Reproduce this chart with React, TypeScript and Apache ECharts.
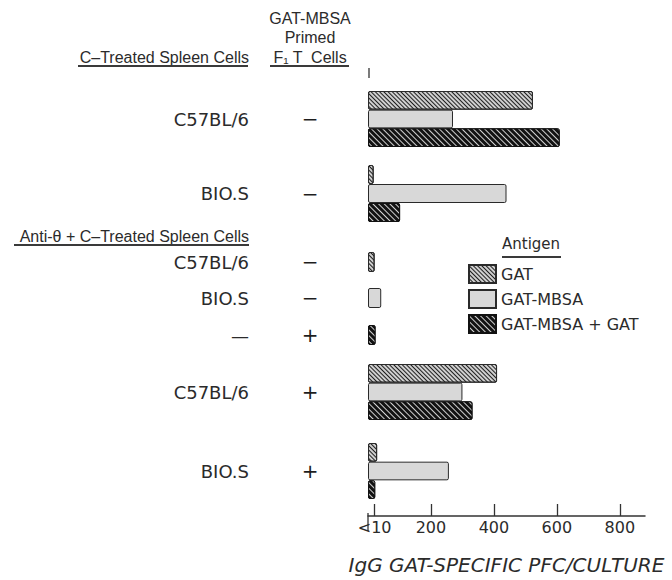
import React, { useEffect, useRef } from 'react';
import * as echarts from 'echarts';

// ---- data ----
const groupLabels = ['C57BL/6', 'BIO.S', 'C57BL/6', 'BIO.S', '—', 'C57BL/6', 'BIO.S'];
const primedMarks = ['−', '−', '−', '−', '+', '+', '+'];
const seriesNames = ['GAT', 'GAT-MBSA', 'GAT-MBSA + GAT'];
const gatValues = [524, 18, 21, null, null, 410, 29];
const mbsaValues = [270, 440, null, 42, null, 300, 257];
const comboValues = [609, 102, null, null, 24, 332, 23];
const xTickValues = [21, 200, 400, 600, 800];
const xTickLabels = ['<10', '200', '400', '600', '800'];

// ---- layout ----
const GRID_LEFT = 368;
const GRID_WIDTH = 277;
const X_MAX = 880;
const groupTops = [91, 165, 252, 288, 325, 364, 443];
const groupHeights = [56, 57, 20, 20, 20, 56, 56];
const AXIS_Y = 531;

const TEXT = '#2b2b2b';
const FONT = 'DejaVu Sans';
const HEAD_FONT = '16px "Liberation Sans", Arial, sans-serif';

const styles = [
  {
    color: '#cfcfcf',
    borderColor: '#2a2a2a',
    borderWidth: 1,
    borderRadius: 1.5,
    decal: { symbol: 'rect', symbolSize: 1, dashArrayX: [1, 0], dashArrayY: [1, 2], rotation: Math.PI / 4, color: '#1e1e1e' },
  },
  { color: '#d8d8d8', borderColor: '#2a2a2a', borderWidth: 1, borderRadius: 1.5 },
  {
    color: '#121212',
    borderColor: '#111',
    borderWidth: 1,
    borderRadius: 1.5,
    decal: { symbol: 'rect', symbolSize: 1, dashArrayX: [1, 0], dashArrayY: [1, 3], rotation: Math.PI / 4, color: '#d0d0d0' },
  },
];

export default function App() {
  const ref = useRef<HTMLDivElement>(null);
  useEffect(() => {
    if (!ref.current) return;
    const chart = echarts.init(ref.current, null, { renderer: 'svg' });
    const valueSets = [gatValues, mbsaValues, comboValues];

    const grid: any[] = [];
    const xAxis: any[] = [];
    const yAxis: any[] = [];
    const series: any[] = [];

    groupLabels.forEach((label, gi) => {
      grid.push({ left: GRID_LEFT, width: GRID_WIDTH, top: groupTops[gi], height: groupHeights[gi] });
      xAxis.push({ gridIndex: gi, type: 'value', min: 0, max: X_MAX, show: false });
      yAxis.push({
        gridIndex: gi,
        type: 'category',
        inverse: true,
        data: [label],
        axisLine: { show: false },
        axisTick: { show: false },
        axisLabel: {
          margin: 18,
          formatter: (v: string) => `{n|${v}}{s|${primedMarks[gi]}}`,
          rich: {
            n: { fontSize: 18, fontFamily: FONT, color: TEXT, padding: [0, 21, 0, 0] },
            s: { width: 80, align: 'center', fontSize: 20, fontFamily: FONT, color: '#1e1e1e' },
          },
        },
      });
      valueSets.forEach((vals, si) => {
        const v = vals[gi];
        if (v === null || v === undefined) return;
        series.push({
          type: 'bar',
          name: seriesNames[si],
          xAxisIndex: gi,
          yAxisIndex: gi,
          data: [v],
          barGap: '0%',
          barCategoryGap: '0%',
          itemStyle: styles[si],
        });
      });
    });

    // axis-only grid
    const ai = groupLabels.length;
    grid.push({ left: GRID_LEFT, width: GRID_WIDTH, top: 60, height: AXIS_Y - 60 });
    xAxis.push({
      gridIndex: ai,
      type: 'value',
      min: 0,
      max: X_MAX,
      position: 'bottom',
      axisLine: { show: true, lineStyle: { color: '#333', width: 1.5 } },
      axisTick: { show: true, inside: true, length: 12, lineStyle: { color: '#333', width: 1.3 }, customValues: xTickValues },
      axisLabel: {
        customValues: xTickValues,
        formatter: (v: number) => xTickLabels[xTickValues.indexOf(v)] ?? '',
        fontSize: 16,
        fontFamily: FONT,
        color: TEXT,
        margin: 3,
      },
      splitLine: { show: false },
      name: 'IgG GAT-SPECIFIC PFC/CULTURE',
      nameLocation: 'middle',
      nameGap: 39,
      nameTextStyle: { fontStyle: 'italic', fontSize: 20, fontFamily: FONT, color: TEXT },
    });
    yAxis.push({ gridIndex: ai, type: 'value', show: false });

    const lineStyle = { stroke: '#3a3a3a', lineWidth: 2 };
    chart.setOption({
      animation: false,
      grid,
      xAxis,
      yAxis,
      series,
      legend: {
        orient: 'vertical',
        left: 468,
        top: 264,
        padding: 0,
        itemWidth: 27,
        itemHeight: 18,
        itemGap: 5,
        icon: 'rect',
        selectedMode: false,
        data: seriesNames,
        textStyle: { fontSize: 16, fontFamily: FONT, color: TEXT },
      },
      graphic: [
        { type: 'text', x: 310, y: 18, style: { text: 'GAT-MBSA', font: HEAD_FONT, fill: TEXT, textAlign: 'center', textVerticalAlign: 'middle' } },
        { type: 'text', x: 310, y: 37, style: { text: 'Primed', font: HEAD_FONT, fill: TEXT, textAlign: 'center', textVerticalAlign: 'middle' } },
        { type: 'text', x: 310, y: 57, style: { text: 'F₁ T  Cells', font: HEAD_FONT, fill: TEXT, textAlign: 'center', textVerticalAlign: 'middle' } },
        { type: 'text', x: 249, y: 57, style: { text: 'C–Treated Spleen Cells', font: HEAD_FONT, fill: TEXT, textAlign: 'right', textVerticalAlign: 'middle' } },
        { type: 'line', shape: { x1: 78, y1: 66, x2: 248, y2: 66 }, style: lineStyle },
        { type: 'line', shape: { x1: 270, y1: 66, x2: 349, y2: 66 }, style: lineStyle },
        { type: 'text', x: 249, y: 236, style: { text: 'Anti-θ + C–Treated Spleen Cells', font: HEAD_FONT, fill: TEXT, textAlign: 'right', textVerticalAlign: 'middle' } },
        { type: 'line', shape: { x1: 14, y1: 245, x2: 249, y2: 245 }, style: lineStyle },
        { type: 'line', shape: { x1: 369, y1: 68, x2: 369, y2: 78 }, style: { stroke: '#333', lineWidth: 1.3 } },
        { type: 'line', shape: { x1: GRID_LEFT, y1: AXIS_Y - 18, x2: GRID_LEFT, y2: AXIS_Y }, style: { stroke: '#333', lineWidth: 1.3 } },
        { type: 'text', x: 502, y: 244, style: { text: 'Antigen', font: `15px "${FONT}"`, fill: TEXT, textAlign: 'left', textVerticalAlign: 'middle' } },
        { type: 'line', shape: { x1: 502, y1: 257, x2: 561, y2: 257 }, style: lineStyle },
      ],
    });
    return () => chart.dispose();
  }, []);
  return <div ref={ref} style={{ position: 'fixed', left: 0, top: 0, width: 672, height: 580, background: '#fff' }} />;
}
